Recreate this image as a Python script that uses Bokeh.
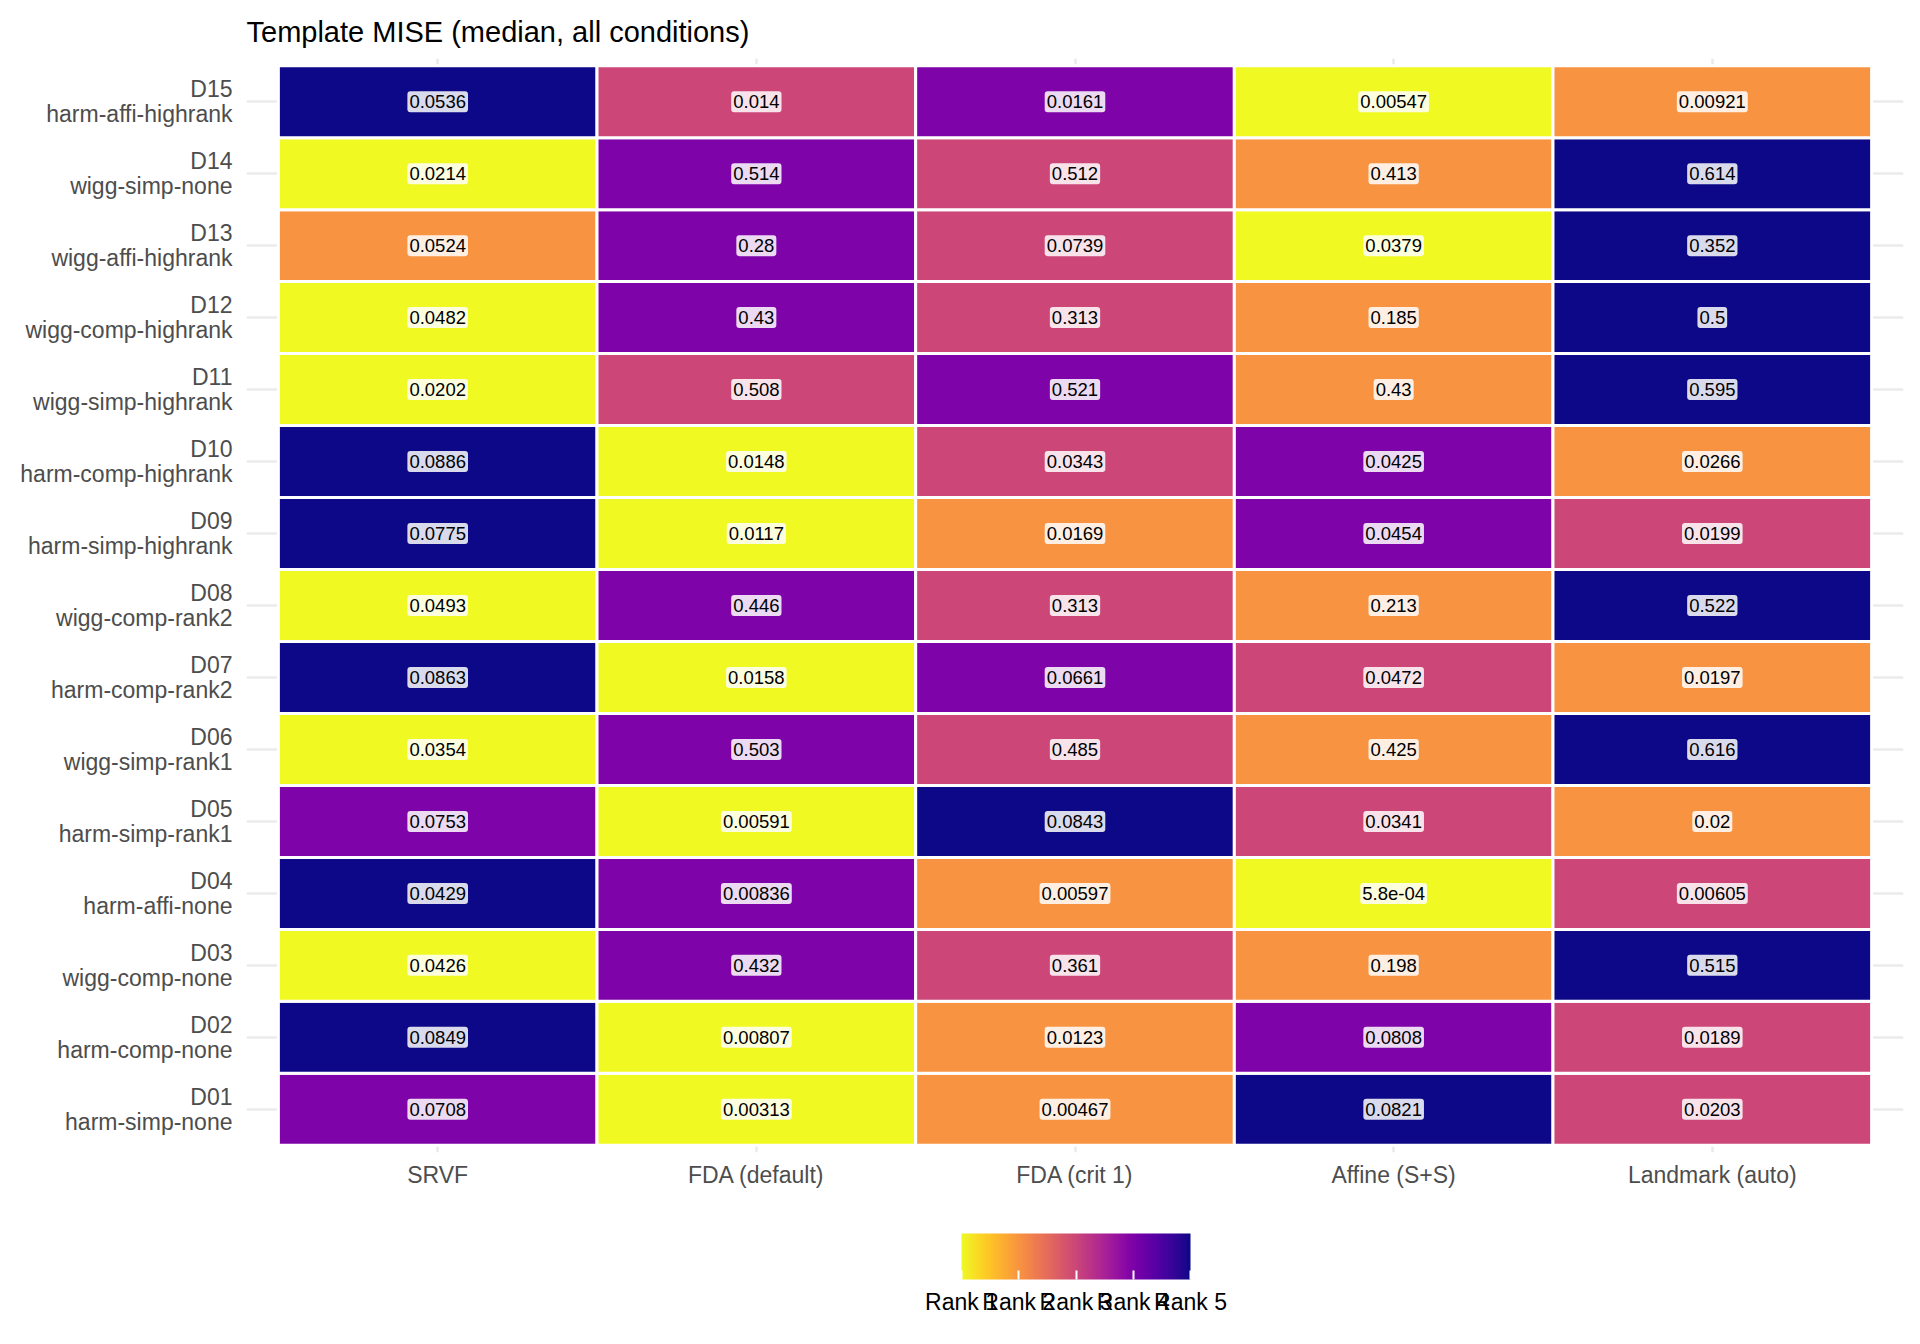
from bokeh.plotting import figure
from bokeh.models import ColumnDataSource, FactorRange, ColorBar, LinearColorMapper, FixedTicker, AllLabels
from bokeh.transform import linear_cmap
from bokeh.core.properties import value
from bokeh.palettes import Plasma256
from bokeh.embed import file_html
from bokeh.resources import INLINE

# ---------------- data ----------------
title_text = "Template MISE (median, all conditions)"
datasets = ["D01", "D02", "D03", "D04", "D05", "D06", "D07", "D08",
            "D09", "D10", "D11", "D12", "D13", "D14", "D15"]
dataset_desc = ["harm-simp-none", "harm-comp-none", "wigg-comp-none", "harm-affi-none",
                "harm-simp-rank1", "wigg-simp-rank1", "harm-comp-rank2", "wigg-comp-rank2",
                "harm-simp-highrank", "harm-comp-highrank", "wigg-simp-highrank",
                "wigg-comp-highrank", "wigg-affi-highrank", "wigg-simp-none",
                "harm-affi-highrank"]
methods = ["SRVF", "FDA (default)", "FDA (crit 1)", "Affine (S+S)", "Landmark (auto)"]

srvf        = [0.0708, 0.0849, 0.0426, 0.0429, 0.0753, 0.0354, 0.0863, 0.0493,
               0.0775, 0.0886, 0.0202, 0.0482, 0.0524, 0.0214, 0.0536]
fda_default = [0.00313, 0.00807, 0.432, 0.00836, 0.00591, 0.503, 0.0158, 0.446,
               0.0117, 0.0148, 0.508, 0.43, 0.28, 0.514, 0.014]
fda_crit1   = [0.00467, 0.0123, 0.361, 0.00597, 0.0843, 0.485, 0.0661, 0.313,
               0.0169, 0.0343, 0.521, 0.313, 0.0739, 0.512, 0.0161]
affine      = [0.0821, 0.0808, 0.198, 0.00058, 0.0341, 0.425, 0.0472, 0.213,
               0.0454, 0.0425, 0.43, 0.185, 0.0379, 0.413, 0.00547]
landmark    = [0.0203, 0.0189, 0.515, 0.00605, 0.02, 0.616, 0.0197, 0.522,
               0.0199, 0.0266, 0.595, 0.5, 0.352, 0.614, 0.00921]

rank_levels = [1, 2, 3, 4, 5]
rank_labels = ["Rank 1", "Rank 2", "Rank 3", "Rank 4", "Rank 5"]
rank_colors = ["#F0F921", "#F89441", "#CC4678", "#7E03A8", "#0D0887"]

series = [srvf, fda_default, fda_crit1, affine, landmark]
row_labels = [f"{d}\n{desc}" for d, desc in zip(datasets, dataset_desc)]


def fmt(v):
    if v < 1e-3:
        return f"{v:.1e}"
    return f"{v:.3g}"


xs, ys, vals, labs, ranks = [], [], [], [], []
for i, rl in enumerate(row_labels):
    row = [s[i] for s in series]
    order = sorted(row)
    for m, v in zip(methods, row):
        xs.append(m)
        ys.append(rl)
        vals.append(v)
        labs.append(fmt(v))
        ranks.append(order.index(v) + 1)

src = ColumnDataSource(dict(method=xs, dataset=ys, val=vals, label=labs, rank=ranks))

FONT = "Liberation Sans"

p = figure(width=1904, height=1328,
           x_range=FactorRange(factors=methods, range_padding=0.04, range_padding_units="percent"),
           y_range=FactorRange(factors=row_labels, range_padding=0.2 / 15, range_padding_units="percent"),
           output_backend="svg", toolbar_location=None,
           min_border_left=246, min_border_right=1, min_border_top=58, min_border_bottom=176)

p.title.text = title_text
p.title.text_font = FONT
p.title.text_font_size = "29px"
p.title.text_font_style = "normal"
p.title.text_color = "black"
p.title.align = "left"
p.title.standoff = 22

p.outline_line_color = None
p.background_fill_color = "white"

for g in (p.xgrid, p.ygrid):
    g.grid_line_color = "#ebebeb"
    g.grid_line_width = 2.6

p.rect(x="method", y="dataset", width=1, height=1, source=src,
       fill_color=linear_cmap("rank", rank_colors, 1, 5),
       line_color="white", line_width=3)

p.text(x="method", y="dataset", text="label", source=src,
       text_align="center", text_baseline="middle",
       text_font=value(FONT), text_font_size="18.5px", text_color="black",
       background_fill_color="white", background_fill_alpha=0.85,
       border_radius=3, padding=(2, 4))

for ax in (p.xaxis, p.yaxis):
    ax.axis_line_color = None
    ax.major_tick_line_color = None
    ax.minor_tick_line_color = None
    ax.major_tick_in = 0
    ax.major_tick_out = 0
    ax.major_label_text_font = FONT
    ax.major_label_text_font_size = "23px"
    ax.major_label_text_color = "#4d4d4d"

p.yaxis.major_label_text_line_height = 0.97
p.yaxis.major_label_standoff = 14
p.xaxis.major_label_standoff = 9

mapper = LinearColorMapper(palette=list(reversed(Plasma256)), low=1, high=5)
cb = ColorBar(color_mapper=mapper, orientation="horizontal", width=229, height=46,
              ticker=FixedTicker(ticks=rank_levels),
              major_label_overrides={k: lab for k, lab in zip(rank_levels, rank_labels)},
              major_label_policy=AllLabels(),
              major_label_text_font=FONT, major_label_text_font_size="23px",
              major_label_text_color="black",
              major_tick_line_color="white", major_tick_line_width=2,
              major_tick_in=9, major_tick_out=0,
              label_standoff=9, bar_line_color=None, border_line_color=None,
              background_fill_color=None,
              location=(715, -165), padding=0, margin=0)
p.add_layout(cb, "center")

open("out.html", "w").write(file_html(p, INLINE))
